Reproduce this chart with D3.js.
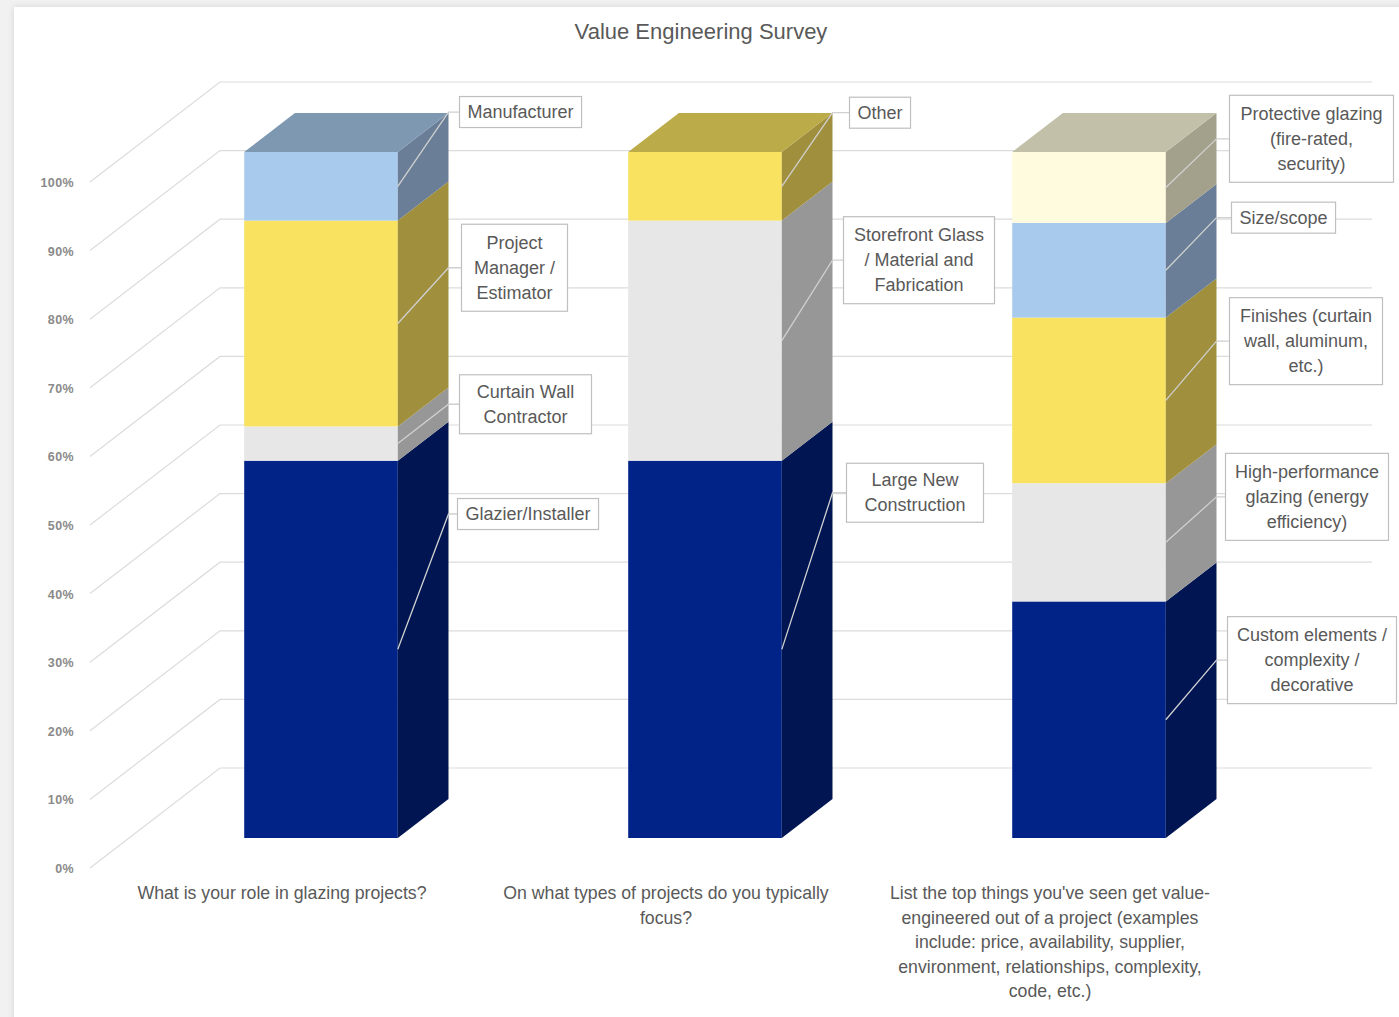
<!DOCTYPE html>
<html><head><meta charset="utf-8">
<script src="https://cdn.jsdelivr.net/npm/d3@7"></script>
<style>html,body{margin:0;padding:0;background:#f1f1f1;overflow:hidden}</style>
</head><body><svg id="c" width="1399" height="1017"></svg>
<script>
// ---------- DATA ----------
const title = "Value Engineering Survey";
const categories = ["Role", "Project types", "Value-engineered items"];
const categoryLines = [
  ["What is your role in glazing projects?"],
  ["On what types of projects do you typically", "focus?"],
  ["List the top things you've seen get value-", "engineered out of a project (examples", "include: price, availability, supplier,", "environment, relationships, complexity,", "code, etc.)"]
];
// series listed bottom -> top
const roleSeries = ["Glazier/Installer", "Curtain Wall\nContractor", "Project\nManager /\nEstimator", "Manufacturer"];
const roleCounts = [11, 1, 6, 2];
const projectSeries = ["Large New\nConstruction", "Storefront Glass\n/ Material and\nFabrication", "Other"];
const projectCounts = [11, 7, 2];
const veSeries = ["Custom elements /\ncomplexity /\ndecorative", "High-performance\nglazing (energy\nefficiency)", "Finishes (curtain\nwall, aluminum,\netc.)", "Size/scope", "Protective glazing\n(fire-rated,\nsecurity)"];
const veCounts = [10, 5, 7, 4, 3];
const yTicks = [0, 0.1, 0.2, 0.3, 0.4, 0.5, 0.6, 0.7, 0.8, 0.9, 1];

// ---------- STYLE / LAYOUT ----------
const frontColor = ["#012387", "#e7e7e7", "#f9e25f", "#a8caec", "#fffbdf"];
const sideColor  = ["#011552", "#979797", "#a08f3c", "#6a7f97", "#a3a18b"];
const topColor   = ["#0b2a86", "#c0c0c0", "#bbac49", "#7f98b2", "#c2c0a9"];
// label box centre (in value units, front plane), gap from bar back edge, minimum box width
const labelPosY = [[0.516, 0.676, 0.875, 1.102], [0.547, 0.886, 1.101], [0.303, 0.541, 0.768, 0.948, 1.063]];
const labelGap  = [[9, 11, 13, 11], [14, 11, 17], [11, 9, 13, 15, 13]];
const labelMinW = [[0, 132, 106, 0], [137, 151, 0], [169, 163, 153, 0, 164]];

const W = 1399, H = 1017;
const DX = 130, DY = 100, FRONT = 0.3, BACK = 0.69;
const FONT = "'Liberation Sans', Arial, sans-serif";
const TXT = "#595959";

const svg = d3.select("#c");
const defs = svg.append("defs");
const f = defs.append("filter").attr("id", "sh").attr("x", "-5%").attr("y", "-5%").attr("width", "110%").attr("height", "110%");
f.append("feDropShadow").attr("dx", 0).attr("dy", 0).attr("stdDeviation", 3).attr("flood-color", "#000").attr("flood-opacity", 0.12);

svg.append("rect").attr("x", 14).attr("y", 7).attr("width", W).attr("height", H).attr("fill", "#fff").attr("filter", "url(#sh)");

const x = d3.scaleBand().domain(categories).range([90, 1242]).paddingInner(0.6).paddingOuter(0.3);
const y = d3.scaleLinear().domain([0, 1]).range([868, 182]);
const P = (xw, v, d) => [xw + d * DX, y(v) - d * DY];

// title
svg.append("text").attr("x", 701).attr("y", 31).attr("text-anchor", "middle").attr("dominant-baseline", "central")
  .attr("font-family", FONT).attr("font-size", 22).attr("fill", TXT).text(title);

// gridlines (left wall diagonal + back wall horizontal)
const xEnd = x.range()[1];
const g = svg.append("g").attr("fill", "none").attr("stroke", "#dcdcdc").attr("stroke-width", 1.2);
yTicks.forEach(t => {
  const a = P(x.range()[0], t, 0), b = P(x.range()[0], t, 1), c = P(xEnd, t, 1);
  g.append("path").attr("d", d3.line()([a, b, c]));
});
// tick labels
svg.append("g").selectAll("text").data(yTicks).join("text")
  .attr("x", 74).attr("y", d => y(d) + 1).attr("text-anchor", "end").attr("dominant-baseline", "central")
  .attr("font-family", FONT).attr("font-size", 12.5).attr("font-weight", "bold").attr("letter-spacing", 0.4)
  .attr("fill", "#8a8a8a").text(d3.format(".0%"));

// bars
const allSeries = [roleSeries, projectSeries, veSeries];
const allCounts = [roleCounts, projectCounts, veCounts];
const barsG = svg.append("g");
const leadG = svg.append("g");
const labG = svg.append("g");

categories.forEach((cat, ci) => {
  const counts = allCounts[ci];
  const total = d3.sum(counts);
  const cum = [0, ...d3.cumsum(counts)].map(v => v / total);
  const x0 = x(cat), x1 = x0 + x.bandwidth();
  const segs = counts.map((c, i) => ({ lo: cum[i], hi: cum[i + 1], i, name: allSeries[ci][i] }));
  segs.forEach(s => {
    const a = P(x0, s.hi, FRONT), b = P(x1, s.lo, FRONT);
    barsG.append("rect").attr("x", a[0]).attr("y", a[1]).attr("width", b[0] - a[0]).attr("height", b[1] - a[1]).attr("fill", frontColor[s.i]);
    const sp = [P(x1, s.lo, FRONT), P(x1, s.hi, FRONT), P(x1, s.hi, BACK), P(x1, s.lo, BACK)];
    barsG.append("path").attr("d", d3.line()(sp) + "Z").attr("fill", sideColor[s.i]);
  });
  const last = segs[segs.length - 1];
  const tp = [P(x0, 1, FRONT), P(x1, 1, FRONT), P(x1, 1, BACK), P(x0, 1, BACK)];
  barsG.append("path").attr("d", d3.line()(tp) + "Z").attr("fill", topColor[last.i]);

  // labels
  segs.forEach(s => {
    const lines = s.name.split("\n");
    const bx = P(x1, 0, BACK)[0];
    const boxMid = y(labelPosY[ci][s.i]);
    const left = bx + labelGap[ci][s.i];
    const lg = labG.append("g");
    const box = lg.append("rect");
    const txt = lg.append("text").attr("font-family", FONT).attr("font-size", 18).attr("fill", TXT).attr("text-anchor", "middle");
    lines.forEach((ln, li) => {
      txt.append("tspan").attr("x", 0).attr("y", boxMid + (li - (lines.length - 1) / 2) * 25).attr("dominant-baseline", "central").text(ln);
    });
    const tw = d3.max(txt.selectAll("tspan").nodes(), n => n.getComputedTextLength());
    const pad = 8;
    const bw = Math.max(tw + 2 * pad, labelMinW[ci][s.i]);
    const bh = lines.length * 25 + 6 + 3 * (lines.length - 1);
    txt.attr("transform", `translate(${left + bw / 2},0)`);
    box.attr("x", left).attr("y", boxMid - bh / 2).attr("width", bw).attr("height", bh)
      .attr("fill", "#fff").attr("stroke", "#bfbfbf").attr("stroke-width", 1.2);
    const mid = P(x1, (s.lo + s.hi) / 2, FRONT);
    leadG.append("path").attr("d", d3.line()([mid, [bx, boxMid], [left, boxMid]]))
      .attr("fill", "none").attr("stroke", "#d0d0d0").attr("stroke-width", 1.3);
  });

  // category label
  const cx = x0 + x.bandwidth() / 2;
  svg.append("text").attr("font-family", FONT).attr("font-size", 17.7).attr("fill", TXT).attr("text-anchor", "middle")
    .selectAll("tspan").data(categoryLines[ci]).join("tspan")
    .attr("x", cx).attr("y", (d, i) => 893 + i * 24.5).attr("dominant-baseline", "central").text(d => d);
});
</script></body></html>
